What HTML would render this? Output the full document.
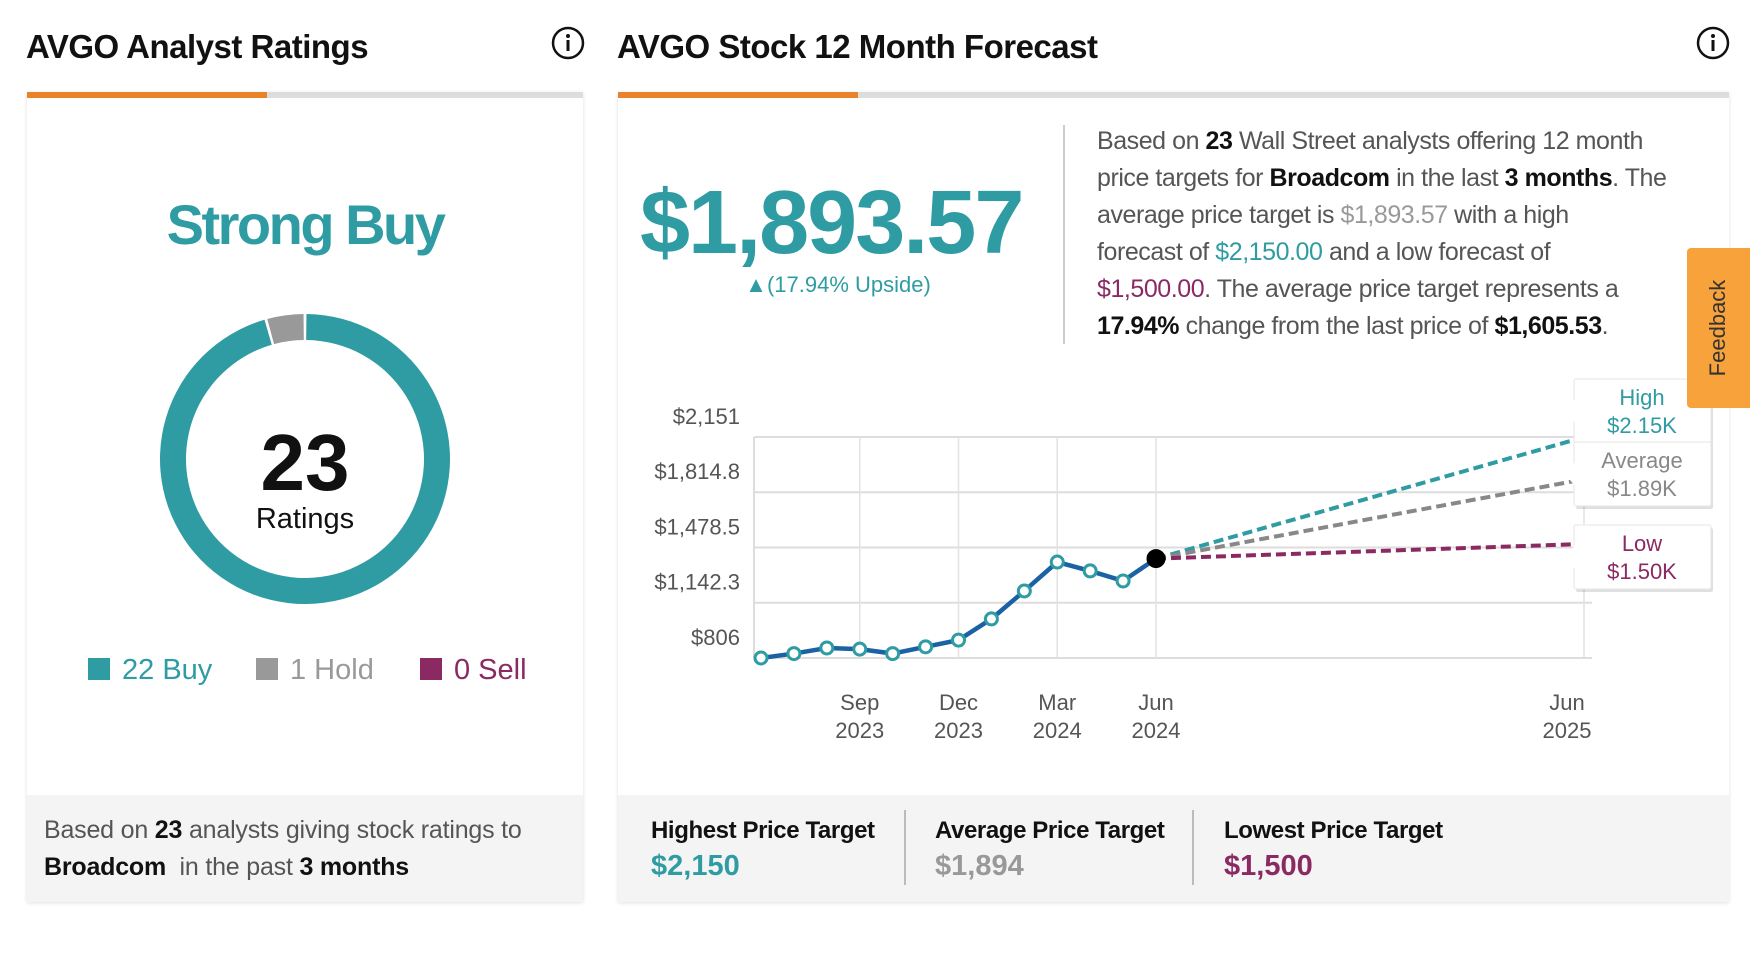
<!DOCTYPE html>
<html><head><meta charset="utf-8">
<style>
*{margin:0;padding:0;box-sizing:border-box}
body{width:1750px;height:970px;background:#fff;font-family:"Liberation Sans",sans-serif;position:relative;overflow:hidden;color:#222}
.a{position:absolute}
.card{position:absolute;background:#fff;box-shadow:0 1px 4px rgba(0,0,0,.12)}
.title{position:absolute;font-size:33px;font-weight:bold;color:#111;letter-spacing:-0.5px}
.foot{position:absolute;background:#f4f4f4}
.p{font-size:25px;color:#555;line-height:37px}
.p b{color:#111}
</style></head><body>
<div class="title" style="left:26px;top:28px">AVGO Analyst Ratings</div>
<svg class="a" style="left:551px;top:26px" width="34" height="34"><circle cx="17" cy="17" r="15" fill="none" stroke="#111" stroke-width="2.5"/><circle cx="17" cy="10" r="2" fill="#111"/><rect x="15.5" y="14" width="3" height="11" fill="#111"/></svg>
<div class="card" style="left:27px;top:92px;width:556px;height:810px">
  <div class="a" style="left:0;top:0;width:556px;height:6px;background:#ddd"></div>
  <div class="a" style="left:0;top:0;width:240px;height:6px;background:#e8832a"></div>
  <div class="a" style="left:0;width:556px;top:100px;text-align:center;font-size:56px;font-weight:bold;color:#2f9ca3;letter-spacing:-2.5px">Strong Buy</div>
  <svg class="a" style="left:133px;top:222px" width="290" height="290">
    <g id="donut"></g>
    <text x="145" y="176" text-anchor="middle" font-size="80" font-weight="bold" fill="#111" font-family="Liberation Sans">23</text>
    <text x="145" y="214" text-anchor="middle" font-size="29" fill="#111" font-family="Liberation Sans">Ratings</text>
  </svg>
  <div class="a" style="top:562px;left:61px;font-size:29px;color:#2f9ca3;white-space:nowrap"><span style="display:inline-block;width:22px;height:22px;background:#2f9ca3;margin-right:12px;vertical-align:-1px"></span>22 Buy</div>
  <div class="a" style="top:562px;left:229px;font-size:29px;color:#999;white-space:nowrap"><span style="display:inline-block;width:22px;height:22px;background:#999;margin-right:12px;vertical-align:-1px"></span>1 Hold</div>
  <div class="a" style="top:562px;left:393px;font-size:29px;color:#8b2a62;white-space:nowrap"><span style="display:inline-block;width:22px;height:22px;background:#8b2a62;margin-right:12px;vertical-align:-1px"></span>0 Sell</div>
  <div class="foot" style="left:0;top:703px;width:556px;height:107px">
    <div class="a p" style="left:17px;top:17px;white-space:nowrap;letter-spacing:-0.2px">Based on <b>23</b> analysts giving stock ratings to<br><b>Broadcom</b>&nbsp; in the past <b>3 months</b></div>
  </div>
</div>

<div class="title" style="left:617px;top:28px">AVGO Stock 12 Month Forecast</div>
<svg class="a" style="left:1696px;top:26px" width="34" height="34"><circle cx="17" cy="17" r="15" fill="none" stroke="#111" stroke-width="2.5"/><circle cx="17" cy="10" r="2" fill="#111"/><rect x="15.5" y="14" width="3" height="11" fill="#111"/></svg>
<div class="card" style="left:618px;top:92px;width:1111px;height:810px">
  <div class="a" style="left:0;top:0;width:1111px;height:6px;background:#ddd"></div>
  <div class="a" style="left:0;top:0;width:240px;height:6px;background:#e8832a"></div>
  <div class="a" style="left:22px;top:80px;font-size:90px;font-weight:bold;color:#2f9ca3;letter-spacing:-2px;white-space:nowrap">$1,893.57</div>
  <div class="a" style="left:120px;width:200px;text-align:center;top:180px;font-size:22px;color:#2f9ca3;white-space:nowrap">▲(17.94% Upside)</div>
  <div class="a" style="left:445px;top:33px;width:2px;height:219px;background:#ccc"></div>
  <div class="a p" style="left:479px;top:31px;white-space:nowrap;letter-spacing:-0.45px">Based on <b>23</b> Wall Street analysts offering 12 month<br>price targets for <b>Broadcom</b> in the last <b>3 months</b>. The<br>average price target is <span style="color:#999">$1,893.57</span> with a high<br>forecast of <span style="color:#2f9ca3">$2,150.00</span> and a low forecast of<br><span style="color:#8b2a62">$1,500.00</span>. The average price target represents a<br><b>17.94%</b> change from the last price of <b>$1,605.53</b>.</div>
  <div class="foot" style="left:0;top:703px;width:1111px;height:107px">
    <div class="a" style="left:33px;top:22px;font-size:24px;font-weight:bold;color:#111;white-space:nowrap;letter-spacing:-0.4px">Highest Price Target</div>
    <div class="a" style="left:33px;top:55px;font-size:29px;font-weight:bold;color:#2f9ca3">$2,150</div>
    <div class="a" style="left:286px;top:15px;width:2px;height:75px;background:#bbb"></div>
    <div class="a" style="left:317px;top:22px;font-size:24px;font-weight:bold;color:#111;white-space:nowrap;letter-spacing:-0.4px">Average Price Target</div>
    <div class="a" style="left:317px;top:55px;font-size:29px;font-weight:bold;color:#999">$1,894</div>
    <div class="a" style="left:574px;top:15px;width:2px;height:75px;background:#bbb"></div>
    <div class="a" style="left:606px;top:22px;font-size:24px;font-weight:bold;color:#111;white-space:nowrap;letter-spacing:-0.4px">Lowest Price Target</div>
    <div class="a" style="left:606px;top:55px;font-size:29px;font-weight:bold;color:#8b2a62">$1,500</div>
  </div>
</div>

<svg class="a" id="chart" style="left:0;top:0" width="1750" height="970"></svg>

<div class="a" style="left:1687px;top:248px;width:63px;height:160px;background:#f7a23a;border-radius:4px 0 0 4px">
  <div class="a" style="left:31px;top:80px;transform:translate(-50%,-50%) rotate(-90deg);font-size:22px;color:#333;white-space:nowrap">Feedback</div>
</div>

<script>
// Donut
const ratingLabels=["Buy","Hold","Sell"];
const ratingCounts=[22,1,0];
const ratingColors=["#2f9ca3","#999","#8b2a62"];
(function(){
  const g=document.getElementById('donut');const cx=145,cy=145,R=145,r=119;
  const total=ratingCounts.reduce((a,b)=>a+b,0);
  let start=0;const gap=0.02;
  ratingCounts.forEach((c,i)=>{
    if(!c)return;
    let a0=start+gap/2,a1=start+c/total*2*Math.PI-gap/2;start+=c/total*2*Math.PI;
    const p=(a,rr)=>[cx+rr*Math.sin(a),cy-rr*Math.cos(a)];
    const large=(a1-a0)>Math.PI?1:0;
    const [x0,y0]=p(a0,R),[x1,y1]=p(a1,R),[x2,y2]=p(a1,r),[x3,y3]=p(a0,r);
    const el=document.createElementNS('http://www.w3.org/2000/svg','path');
    el.setAttribute('d',`M${x0},${y0}A${R},${R} 0 ${large} 1 ${x1},${y1}L${x2},${y2}A${r},${r} 0 ${large} 0 ${x3},${y3}Z`);
    el.setAttribute('fill',ratingColors[i]);
    
    
    g.appendChild(el);
  });
})();

// Line chart data (month index 0 = Jun 2023)
const priceMonths=[0,1,2,3,4,5,6,7,8,9,10,11,12];
const priceValues=[806,833,867,860,833,874,915,1044,1214,1390,1336,1275,1411];
const forecastLabels=["High","Average","Low"];
const forecastValues=[2150,1893.57,1500];
const forecastText=["$2.15K","$1.89K","$1.50K"];
const forecastMonth=24;
const yTicks=[806,1142.3,1478.5,1814.8,2151];
const yTickLabels=["$806","$1,142.3","$1,478.5","$1,814.8","$2,151"];
const xTickMonths=[3,6,9,12,24];
const xTickLabels=[["Sep","2023"],["Dec","2023"],["Mar","2024"],["Jun","2024"],["Jun","2025"]];

(function(){
  const svg=document.getElementById('chart');const NS='http://www.w3.org/2000/svg';
  const mk=(t,a)=>{const e=document.createElementNS(NS,t);for(const k in a)e.setAttribute(k,a[k]);svg.appendChild(e);return e;};
  const y=v=>658+(v-806)/(2151-806)*(437-658);
  const x=m=>m<=12?761+m*(1156-761)/12:1156+(m-12)*(1584-1156)/12;
  const L=754,Rt=1592;
  yTicks.forEach((v,i)=>{
    const l=mk('line',{x1:L,x2:Rt,y1:y(v),y2:y(v),stroke:'#ddd','stroke-width':2});
    
    const t=mk('text',{x:740,y:y(v)-13,'text-anchor':'end','font-size':22,fill:'#555','font-family':'Liberation Sans'});
    t.textContent=yTickLabels[i];
    
  });
  mk('line',{x1:L,x2:L,y1:y(2151),y2:y(806),stroke:'#ddd','stroke-width':2});
  xTickMonths.forEach((m,i)=>{
    const l=mk('line',{x1:x(m),x2:x(m),y1:y(2151),y2:y(806),stroke:'#e2e2e2','stroke-width':1.5});
    
    const off=m>12?-17:0;
    xTickLabels[i].forEach((s,j)=>{
      const t=mk('text',{x:x(m)+off,y:710+j*28,'text-anchor':'middle','font-size':22,fill:'#555','font-family':'Liberation Sans'});
      t.textContent=s;
      
    });
  });
  const fc=['#2f9ca3','#888','#8b2a62'];
  const lx=x(priceMonths[priceMonths.length-1]),ly=y(priceValues[priceValues.length-1]);
  forecastValues.forEach((v,i)=>{
    const l=mk('line',{x1:lx,y1:ly,x2:x(forecastMonth),y2:y(v),stroke:fc[i],'stroke-width':4,'stroke-dasharray':'10 5'});
    
  });
  const pl=mk('polyline',{points:priceMonths.map((m,i)=>x(m)+','+y(priceValues[i])).join(' '),fill:'none',stroke:'#1a62a3','stroke-width':4.5});
  
  priceMonths.forEach((m,i)=>{
    const last=i===priceMonths.length-1;
    const c=mk('circle',{cx:x(m),cy:y(priceValues[i]),r:last?8:6,fill:last?'#000':'#fff',stroke:last?'#000':'#2f9ca3','stroke-width':3});
    
  });
  const boxTop=[379,442,525];
  forecastValues.forEach((v,i)=>{
    const bx=1574,by=boxTop[i],bw=137,bh=64;
    mk('rect',{x:bx+2,y:by+3,width:bw,height:bh,fill:'rgba(0,0,0,0.12)',rx:2});
    const r=mk('rect',{x:bx,y:by,width:bw,height:bh,fill:'#fff',stroke:'#e6e6e6',rx:2});
    
    mk('polygon',{points:`${bx+1},${by+20} ${bx-9},${by+32} ${bx+1},${by+44}`,fill:'#fff'});
    const t1=mk('text',{x:bx+68,y:by+26,'text-anchor':'middle','font-size':22,fill:fc[i],'font-family':'Liberation Sans'});t1.textContent=forecastLabels[i];
    const t2=mk('text',{x:bx+68,y:by+54,'text-anchor':'middle','font-size':22,fill:fc[i],'font-family':'Liberation Sans'});t2.textContent=forecastText[i];
  });
})();
</script>
</body></html>
